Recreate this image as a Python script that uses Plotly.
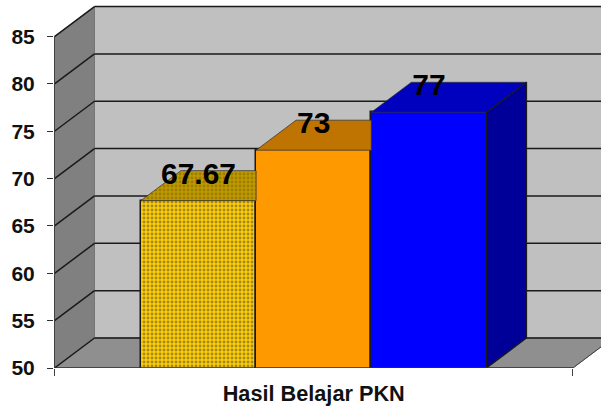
import plotly.graph_objects as go

categories = ["Seri 1", "Seri 2", "Seri 3"]
positions = [1, 2, 3]
values = [67.67, 73, 77]
labels = ["67.67", "73", "77"]
y_ticks = [50, 55, 60, 65, 70, 75, 80, 85]
axis_label = "Hasil Belajar PKN"

front_colors = ["#ffcc00", "#ff9900", "#0000ff"]
top_colors = ["#bf9900", "#bf7300", "#0000bf"]
side_color = "#000099"

W, H = 601, 406
LEFT, BOTTOM = 54, 38
PX_X = 115.2           # px per category
PX_Y = 9.47            # px per value unit
DX = 40 / PX_X         # depth along x
DY = 30 / PX_Y         # depth along y
X0 = -0.25
X1 = 4.25
Y0, Y1 = y_ticks[0], y_ticks[-1]
EDGE = "#1a1a1a"

x_lo = X0 - 0.5 / PX_X
x_hi = x_lo + (W - LEFT) / PX_X
y_hi = Y0 + (H - BOTTOM) / PX_Y


def poly(pts):
    return "M " + " L ".join(f"{a},{b}" for a, b in pts) + " Z"


def seg(xa, ya, xb, yb, color=EDGE, width=1.5, layer="below"):
    return dict(type="line", xref="x", yref="y", x0=xa, y0=ya, x1=xb, y1=yb,
                line=dict(color=color, width=width), layer=layer)


def area(pts, color):
    return dict(type="path", xref="x", yref="y", path=poly(pts), fillcolor=color,
                line=dict(color="#707070", width=0.75), layer="below")


shapes = [
    area([(X0 + DX, Y0 + DY), (x_hi + 1, Y0 + DY), (x_hi + 1, Y1 + DY), (X0 + DX, Y1 + DY)], "#c0c0c0"),
    area([(X0, Y0), (X0 + DX, Y0 + DY), (X0 + DX, Y1 + DY), (X0, Y1)], "#808080"),
    area([(X0, Y0), (X1, Y0), (X1 + DX, Y0 + DY), (X0 + DX, Y0 + DY)], "#8f8f8f"),
]
for t in y_ticks:
    shapes.append(seg(X0, t, X0 + DX, t + DY))
    shapes.append(seg(X0 + DX, t + DY, x_hi + 1, t + DY))
shapes.append(seg(X1, Y0, X1 + DX, Y0 + DY, color="#404040", width=1))
shapes.append(seg(X0, Y0, X0, Y1, color="#404040", width=1, layer="above"))
shapes.append(seg(X0, Y0, X1, Y0, color="#303030", width=1.5, layer="above"))

fig = go.Figure()
fig.add_trace(go.Bar(
    x=positions, y=values, width=1,
    marker=dict(color=front_colors, line=dict(color=EDGE, width=1.5),
                pattern=dict(shape=[".", "", ""], fgcolor="#8a7d00", bgcolor="#ffcc00",
                             size=4, solidity=0.4)),
    hoverinfo="skip", showlegend=False,
))

# top faces, cut where the next bar's front hides them
for i, (p, v) in enumerate(zip(positions, values)):
    left = p - 0.5
    right = p + 0.5
    far = right + DX if i == len(values) - 1 else right
    near = right
    xs = [left, left + DX, far, near, left]
    ys = [v, v + DY, v + DY, v, v]
    kw = {}
    if i == 0:
        kw["fillpattern"] = dict(shape=".", fgcolor="#7a6200", bgcolor=top_colors[0],
                                 size=4, solidity=0.4)
    fig.add_trace(go.Scatter(x=xs, y=ys, mode="lines", fill="toself", fillcolor=top_colors[i],
                             line=dict(color="#333333", width=0.75), hoverinfo="skip",
                             showlegend=False, **kw))

# visible side face of the last bar
last_r = positions[-1] + 0.5
last_v = values[-1]
fig.add_trace(go.Scatter(
    x=[last_r, last_r + DX, last_r + DX, last_r, last_r],
    y=[last_v, last_v + DY, Y0 + DY, Y0, last_v],
    mode="lines", fill="toself", fillcolor=side_color,
    line=dict(color=EDGE, width=1.25), hoverinfo="skip", showlegend=False,
))

# data labels
fig.add_trace(go.Scatter(
    x=positions, y=[v + 24.5 / PX_Y for v in values], mode="text",
    text=[f"<b>{s}</b>" for s in labels],
    textposition="middle center",
    textfont=dict(family="Liberation Sans", size=30, color="#000000"),
    hoverinfo="skip", showlegend=False,
))

fig.update_layout(
    width=W, height=H,
    margin=dict(l=LEFT, r=0, t=0, b=BOTTOM, pad=0),
    paper_bgcolor="#ffffff", plot_bgcolor="#ffffff",
    shapes=shapes, bargap=0, showlegend=False,
    font=dict(family="Liberation Sans", color="#111111"),
    xaxis=dict(
        automargin=False,
        range=[x_lo, x_hi], tickmode="array", tickvals=[2], ticktext=[f"<b>{axis_label}</b>"],
        ticks="", showgrid=False, zeroline=False, showline=False, ticklabelstandoff=10,
        tickfont=dict(family="Liberation Sans", size=21.7, color="#111111"),
        minor=dict(tickmode="array", tickvals=[X0, X1], ticks="outside", ticklen=7,
                   tickcolor="#404040", tickwidth=1, showgrid=False),
    ),
    yaxis=dict(
        automargin=False,
        range=[Y0, y_hi], tickmode="array", tickvals=y_ticks,
        ticktext=[f"<b>{t}</b>" for t in y_ticks],
        ticks="outside", ticklen=6, tickcolor="#303030", tickwidth=1, ticklabelstandoff=8,
        showgrid=False, zeroline=False, showline=False,
        tickfont=dict(family="Liberation Sans", size=21, color="#111111"),
    ),
)

fig.write_html("out.html", post_script="document.body.style.margin='0';",
               config={"displayModeBar": False})
